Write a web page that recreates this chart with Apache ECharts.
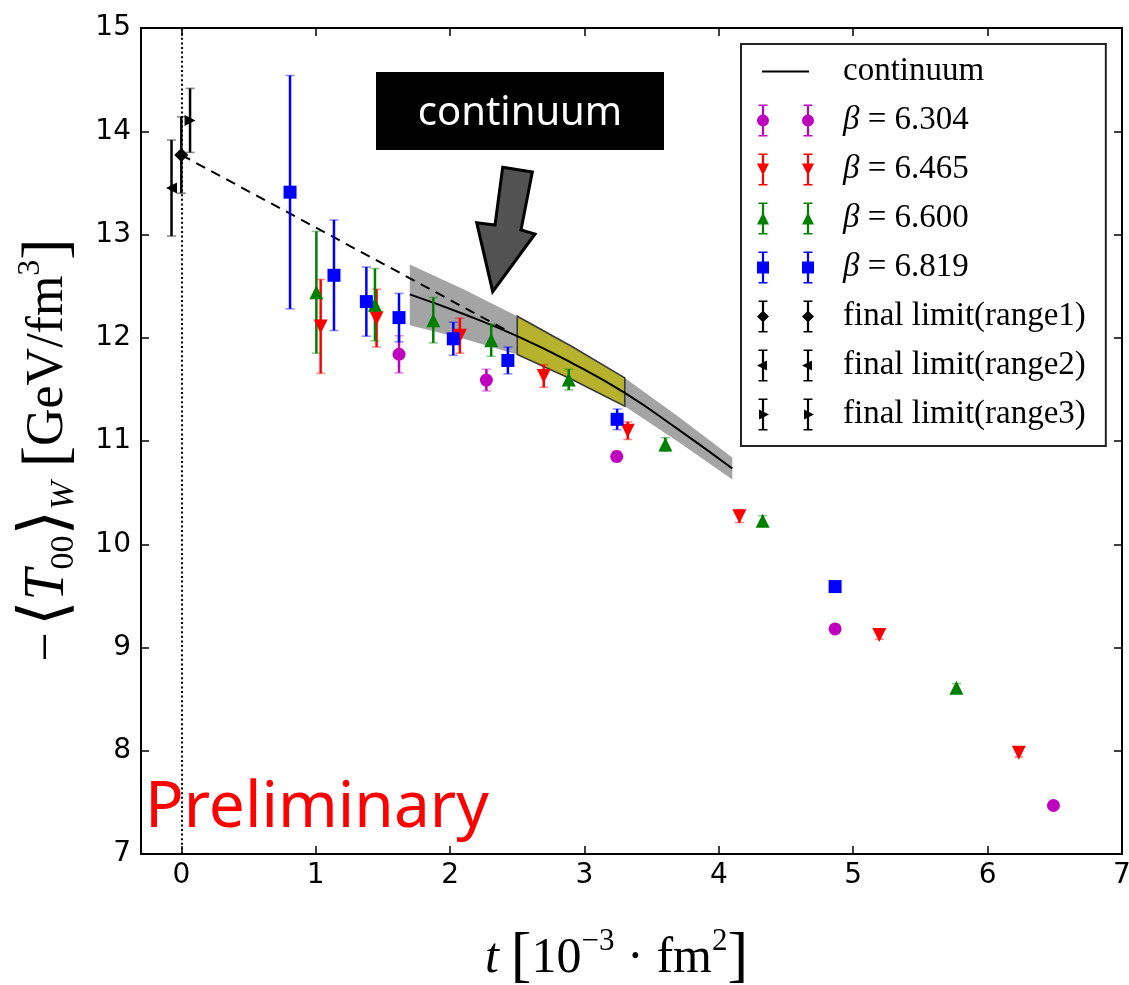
<!DOCTYPE html>
<html>
<head>
<meta charset="utf-8">
<script src="https://cdn.jsdelivr.net/npm/echarts@6/dist/echarts.min.js"></script>
<style>
  html, body { margin: 0; padding: 0; background: #fff; }
  #chart { width: 1129px; height: 985px; }
</style>
</head>
<body>
<div id="chart"></div>
<script>
// Flow time t in units of 1e-3 fm^2, energy density -<T00>_W in GeV/fm^3.
const tBeta6304 = [1.62, 2.27, 3.24, 4.865, 6.49];
const vBeta6304 = [11.84, 11.59, 10.85, 9.18, 7.47];
const eBeta6304 = [0.18, 0.105, 0.05, 0.03, 0.03];

const tBeta6465 = [1.037, 1.453, 2.073, 2.697, 3.322, 4.153, 5.194, 6.232];
const vBeta6465 = [12.11, 12.19, 12.02, 11.63, 11.10, 10.27, 9.12, 7.98];
const eBeta6465 = [0.455, 0.28, 0.17, 0.11, 0.085, 0.06, 0.04, 0.04];

const tBeta6600 = [1.005, 1.441, 1.875, 2.306, 2.883, 3.602, 4.326, 5.768];
const vBeta6600 = [12.44, 12.32, 12.17, 11.975, 11.595, 10.967, 10.227, 8.61];
const eBeta6600 = [0.59, 0.35, 0.22, 0.155, 0.10, 0.065, 0.05, 0.04];

const tBeta6819 = [0.809, 1.136, 1.377, 1.62, 2.024, 2.43, 3.243, 4.865];
const vBeta6819 = [13.41, 12.605, 12.35, 12.195, 11.99, 11.78, 11.21, 9.59];
const eBeta6819 = [1.13, 0.535, 0.335, 0.235, 0.16, 0.13, 0.10, 0.03];

// t -> 0 limits from the three fit ranges
const tRange1 = [0.0];    const vRange1 = [13.77];  const eRange1 = [0.37];
const tRange2 = [-0.073]; const vRange2 = [13.45];  const eRange2 = [0.465];
const tRange3 = [0.065];  const vRange3 = [14.105]; const eRange3 = [0.31];

// continuum curve with its error band
const contT  = [1.7, 2.1, 2.5, 2.9, 3.3, 3.7, 4.1];
const contV  = [12.42, 12.23, 12.015, 11.76, 11.466, 11.11, 10.734];
const contHi = [12.709, 12.47, 12.208, 11.92, 11.611, 11.235, 10.84];
const contLo = [12.121, 11.99, 11.837, 11.60, 11.337, 10.99, 10.627];
// fit range used for the extrapolation
const fitRange = [2.5, 3.3];
// linear extrapolation to t = 0
const extrapT = [0.0, 2.45];
const extrapV = [13.77, 12.05];

const xTicks = [0, 1, 2, 3, 4, 5, 6, 7];

const datasets = [
  { name: 'β = 6.304', t: tBeta6304, v: vBeta6304, e: eBeta6304, color: '#bf00bf', symbol: 'circle', size: 13, rotate: 0, icon: 'circle' },
  { name: 'β = 6.465', t: tBeta6465, v: vBeta6465, e: eBeta6465, color: '#ff0000', symbol: 'triangle', size: 14, rotate: 180, icon: 'down' },
  { name: 'β = 6.600', t: tBeta6600, v: vBeta6600, e: eBeta6600, color: '#008000', symbol: 'triangle', size: 14, rotate: 0, icon: 'up' },
  { name: 'β = 6.819', t: tBeta6819, v: vBeta6819, e: eBeta6819, color: '#0000ff', symbol: 'rect', size: 13, rotate: 0, icon: 'square' },
  { name: 'final limit(range1)', t: tRange1, v: vRange1, e: eRange1, color: '#000000', symbol: 'diamond', size: 14, rotate: 0, icon: 'diamond' },
  { name: 'final limit(range2)', t: tRange2, v: vRange2, e: eRange2, color: '#000000', symbol: 'triangle', size: 11, rotate: 90, icon: 'left' },
  { name: 'final limit(range3)', t: tRange3, v: vRange3, e: eRange3, color: '#000000', symbol: 'triangle', size: 11, rotate: -90, icon: 'right' }
];

// ---- legend glyphs: two markers with error bars (57 x 32 box) ----
const IW = 57, IH = 32, CY = 16;
function rectPath(x, y, w, h) {
  return 'M' + x + ',' + y + 'h' + w + 'v' + h + 'h' + (-w) + 'Z';
}
function markerPath(kind, cx) {
  const r = 6;
  switch (kind) {
    case 'circle':
      return 'M' + (cx - r) + ',' + CY + 'A' + r + ',' + r + ' 0 1,1 ' + (cx + r) + ',' + CY +
             'A' + r + ',' + r + ' 0 1,1 ' + (cx - r) + ',' + CY + 'Z';
    case 'square':  return rectPath(cx - r, CY - r, 2 * r, 2 * r);
    case 'up':      return 'M' + cx + ',' + (CY - r) + 'L' + (cx + r) + ',' + (CY + r) + 'L' + (cx - r) + ',' + (CY + r) + 'Z';
    case 'down':    return 'M' + (cx - r) + ',' + (CY - r) + 'L' + (cx + r) + ',' + (CY - r) + 'L' + cx + ',' + (CY + r) + 'Z';
    case 'diamond': return 'M' + cx + ',' + (CY - r) + 'L' + (cx + r) + ',' + CY + 'L' + cx + ',' + (CY + r) + 'L' + (cx - r) + ',' + CY + 'Z';
    case 'left':    return 'M' + (cx + 4) + ',' + (CY - 5) + 'L' + (cx + 4) + ',' + (CY + 5) + 'L' + (cx - 6) + ',' + CY + 'Z';
    case 'right':   return 'M' + (cx - 4) + ',' + (CY - 5) + 'L' + (cx + 6) + ',' + CY + 'L' + (cx - 4) + ',' + (CY + 5) + 'Z';
  }
  return '';
}
const corners = rectPath(0, 0, 0.1, 0.1) + rectPath(IW - 0.1, IH - 0.1, 0.1, 0.1);
function glyphPath(kind) {
  let p = corners;
  [6, 51].forEach(function (cx) {
    p += rectPath(cx - 1.1, 0, 2.2, IH);
    p += rectPath(cx - 4.5, 0, 9, 1.6);
    p += rectPath(cx - 4.5, IH - 1.6, 9, 1.6);
    p += markerPath(kind, cx);
  });
  return 'path://' + p;
}
const lineIcon = 'path://' + corners + rectPath(5, CY - 1.1, 47, 2.2);

// ---- series ----
const series = [];

// grey error band of the continuum curve
series.push({
  type: 'custom', name: 'band', silent: true, z: 1,
  data: contT.map(function (t, i) { return [t, contLo[i], contHi[i]]; }),
  encode: { x: 0, y: [1, 2] },
  renderItem: function (params, api) {
    if (params.dataIndex !== 0) return null;
    const pts = [];
    for (let i = 0; i < contT.length; i++) pts.push(api.coord([contT[i], contHi[i]]));
    for (let i = contT.length - 1; i >= 0; i--) pts.push(api.coord([contT[i], contLo[i]]));
    return { type: 'polygon', shape: { points: pts }, style: { fill: '#a4a4a4' } };
  }
});

// olive box over the fit range
series.push({
  type: 'custom', name: 'fitbox', silent: true, z: 1,
  data: [[fitRange[0], 0]],
  encode: { x: 0, y: 1 },
  renderItem: function (params, api) {
    const idx = [];
    contT.forEach(function (t, i) { if (t >= fitRange[0] - 1e-9 && t <= fitRange[1] + 1e-9) idx.push(i); });
    const pts = [];
    idx.forEach(function (i) { pts.push(api.coord([contT[i], contHi[i]])); });
    idx.slice().reverse().forEach(function (i) { pts.push(api.coord([contT[i], contLo[i]])); });
    return { type: 'polygon', shape: { points: pts }, style: { fill: '#b6b22e', stroke: '#3a3a3a', lineWidth: 1.6 } };
  }
});

// continuum curve
series.push({
  type: 'line', name: 'continuum', z: 3, silent: true,
  data: contT.map(function (t, i) { return [t, contV[i]]; }),
  smooth: true, symbol: 'none', showSymbol: false,
  itemStyle: { color: '#000' },
  lineStyle: { color: '#000', width: 2 }
});

// extrapolation to t = 0, plus the t = 0 marker line
series.push({
  type: 'line', name: 'extrapolation', z: 3, silent: true,
  data: extrapT.map(function (t, i) { return [t, extrapV[i]]; }),
  symbol: 'none', showSymbol: false,
  itemStyle: { color: '#000' },
  lineStyle: { color: '#000', width: 2, type: [10, 7] },
  markLine: {
    silent: true, symbol: 'none', label: { show: false },
    lineStyle: { color: '#000', width: 2, type: [2, 2.6] },
    data: [{ xAxis: 0 }]
  }
});

datasets.forEach(function (d) {
  const color = d.color;
  series.push({
    type: 'custom', name: d.name + ' (err)', silent: true, z: 4,
    data: d.t.map(function (t, i) { return [t, d.v[i], d.e[i]]; }),
    encode: { x: 0, y: 1 },
    renderItem: function (params, api) {
      const x = api.value(0), y = api.value(1), e = api.value(2);
      const top = api.coord([x, y + e]);
      const bot = api.coord([x, y - e]);
      return {
        type: 'group',
        children: [
          { type: 'line', shape: { x1: top[0], y1: top[1], x2: bot[0], y2: bot[1] }, style: { stroke: color, lineWidth: 2.5 } },
          { type: 'line', shape: { x1: top[0] - 4.5, y1: top[1], x2: top[0] + 4.5, y2: top[1] }, style: { stroke: color, lineWidth: 1.6, opacity: 0.45 } },
          { type: 'line', shape: { x1: bot[0] - 4.5, y1: bot[1], x2: bot[0] + 4.5, y2: bot[1] }, style: { stroke: color, lineWidth: 1.6, opacity: 0.45 } }
        ]
      };
    }
  });
  series.push({
    type: 'scatter', name: d.name, z: 5, silent: true,
    data: d.t.map(function (t, i) { return [t, d.v[i]]; }),
    symbol: d.symbol, symbolSize: d.size, symbolRotate: d.rotate,
    itemStyle: { color: color, opacity: 1 }
  });
});

const legendData = [{ name: 'continuum', icon: lineIcon }].concat(
  datasets.map(function (d) { return { name: d.name, icon: glyphPath(d.icon) }; })
);

const tickFont = { fontFamily: 'DejaVu Sans', fontSize: 28, color: '#000' };
const mathFont = 'Liberation Serif';

const option = {
  animation: false,
  backgroundColor: '#fff',
  grid: { left: 141, right: 7, top: 28, bottom: 131, containLabel: false, outerBoundsMode: 'none' },
  xAxis: [{
    type: 'value', min: -0.3, max: 7, position: 'bottom',
    axisLine: { show: true, onZero: false, lineStyle: { color: '#000', width: 2 } },
    axisTick: { show: true, inside: true, length: 8, customValues: xTicks, lineStyle: { color: '#000', width: 1.5 } },
    axisLabel: Object.assign({ margin: 8, customValues: xTicks }, tickFont),
    splitLine: { show: false },
    name: '{i|t}{g| }{br|[}{n|10}{sup|−3}{dot|·}{n|fm}{sup|2}{br|]}',
    nameLocation: 'middle', nameGap: 72,
    nameTextStyle: {
      padding: [0, 30, 0, 0],
      rich: {
        i:   { fontFamily: mathFont, fontStyle: 'italic', fontSize: 50, lineHeight: 66, color: '#000' },
        g:   { fontFamily: mathFont, fontSize: 20, width: 12, lineHeight: 66 },
        n:   { fontFamily: mathFont, fontSize: 50, lineHeight: 66, color: '#000' },
        br:  { fontFamily: mathFont, fontSize: 62, lineHeight: 66, color: '#000' },
        dot: { fontFamily: mathFont, fontSize: 50, lineHeight: 66, width: 42, align: 'center', color: '#000' },
        sup: { fontFamily: mathFont, fontSize: 31, lineHeight: 42, verticalAlign: 'top', color: '#000' }
      }
    }
  }, {
    type: 'value', min: -0.3, max: 7, position: 'top',
    axisLine: { show: true, onZero: false, lineStyle: { color: '#000', width: 2 } },
    axisTick: { show: true, inside: true, length: 8, customValues: xTicks, lineStyle: { color: '#000', width: 1.5 } },
    axisLabel: { show: false },
    splitLine: { show: false }
  }],
  yAxis: [{
    type: 'value', min: 7, max: 15, interval: 1, position: 'left',
    axisLine: { show: true, onZero: false, lineStyle: { color: '#000', width: 2 } },
    axisTick: { show: true, inside: true, length: 8, lineStyle: { color: '#000', width: 1.5 } },
    axisLabel: Object.assign({ margin: 10 }, tickFont),
    splitLine: { show: false },
    name: '{n|−}{g1| }{ang|⟨}{i|T}{sub|00}{ang|⟩}{subi|W}{g2| }{br|[}{n|GeV/fm}{sup|3}{br|]}',
    nameLocation: 'middle', nameRotate: 90, nameGap: 60,
    nameTextStyle: {
      padding: [0, 18, 0, 0],
      rich: {
        n:    { fontFamily: mathFont, fontSize: 52, lineHeight: 66, color: '#000' },
        i:    { fontFamily: mathFont, fontStyle: 'italic', fontSize: 56, lineHeight: 66, color: '#000' },
        ang:  { fontFamily: 'DejaVu Sans', fontSize: 66, lineHeight: 66, color: '#000' },
        br:   { fontFamily: mathFont, fontSize: 64, lineHeight: 66, color: '#000' },
        g1:   { fontFamily: mathFont, fontSize: 16, width: 6, lineHeight: 66 },
        g2:   { fontFamily: mathFont, fontSize: 16, width: 14, lineHeight: 66 },
        sub:  { fontFamily: mathFont, fontSize: 34, lineHeight: 42, verticalAlign: 'bottom', color: '#000' },
        subi: { fontFamily: mathFont, fontStyle: 'italic', fontSize: 34, lineHeight: 38, verticalAlign: 'bottom', color: '#000' },
        sup:  { fontFamily: mathFont, fontSize: 32, lineHeight: 42, verticalAlign: 'top', color: '#000' }
      }
    }
  }, {
    type: 'value', min: 7, max: 15, interval: 1, position: 'right',
    axisLine: { show: true, onZero: false, lineStyle: { color: '#000', width: 2 } },
    axisTick: { show: true, inside: true, length: 8, lineStyle: { color: '#000', width: 1.5 } },
    axisLabel: { show: false },
    splitLine: { show: false }
  }],
  legend: {
    orient: 'vertical', left: 741, top: 44,
    padding: [11, 20, 15, 16],
    itemWidth: IW, itemHeight: IH, itemGap: 16,
    borderColor: '#222', borderWidth: 2, backgroundColor: '#fff',
    selectedMode: false,
    data: legendData,
    formatter: function (name) {
      if (name.indexOf('β') === 0) return '{s| }{b|β}{n|' + name.slice(1) + '}';
      return '{s| }{n|' + name + '}';
    },
    textStyle: {
      color: '#000', fontFamily: mathFont, fontSize: 33,
      rich: {
        s: { width: 24, fontSize: 10 },
        n: { fontFamily: mathFont, fontSize: 33, lineHeight: 32, color: '#000' },
        b: { fontFamily: mathFont, fontStyle: 'italic', fontSize: 33, lineHeight: 32, color: '#000' }
      }
    }
  },
  graphic: [
    {
      type: 'polygon', z: 100,
      shape: { points: [[502.7, 167.3], [532.3, 172], [521, 230], [535, 234], [492.7, 291.7], [476.7, 222.7], [495, 225]] },
      style: { fill: '#525252', stroke: '#000', lineWidth: 3, lineJoin: 'miter' }
    },
    { type: 'rect', z: 100, shape: { x: 376, y: 72, width: 288, height: 78 }, style: { fill: '#000' } },
    {
      type: 'text', z: 101, x: 520, y: 114,
      style: { text: 'continuum', fill: '#fff', fontFamily: 'Noto Sans', fontSize: 40, align: 'center', verticalAlign: 'middle' }
    },
    {
      type: 'text', z: 101, x: 145, y: 809,
      style: { text: 'Preliminary', fill: '#ff0000', fontFamily: 'Noto Sans', fontSize: 64, align: 'left', verticalAlign: 'middle' }
    }
  ],
  series: series
};

const chart = echarts.init(document.getElementById('chart'), null, { renderer: 'canvas' });
chart.setOption(option);
</script>
</body>
</html>
